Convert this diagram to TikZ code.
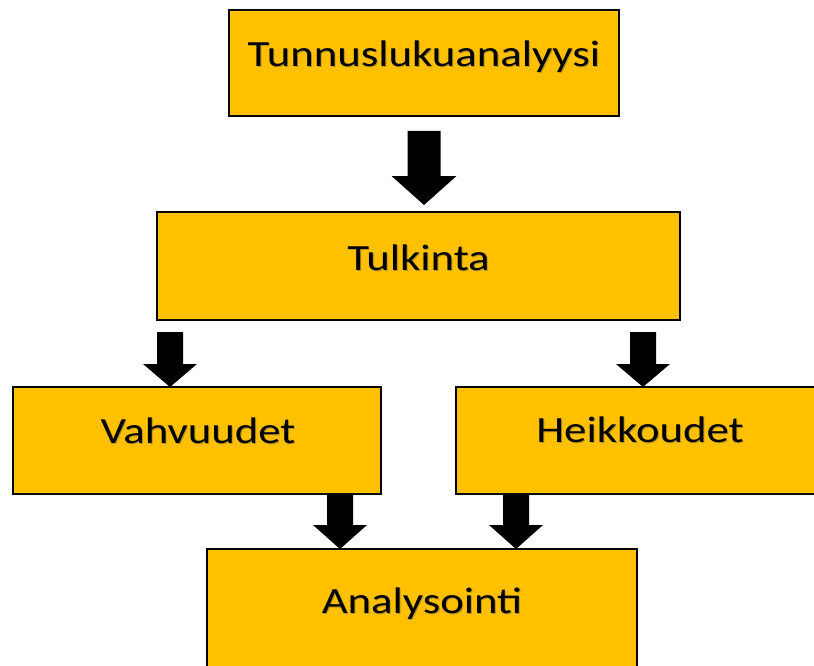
\documentclass[tikz,border=0pt]{standalone}
\usepackage{fontspec}
\setmainfont{Carlito}
\usetikzlibrary{calc}
\definecolor{gold}{HTML}{FFC000}
\tikzset{
  box/.style={draw=black, line width=1.6pt, fill=gold, inner sep=0pt, outer sep=0pt},
  lbl/.style={font=\fontsize{37}{40}\selectfont, anchor=base, inner sep=0pt, text=black},
  lblshadow/.style={lbl, text=black!70, opacity=0.4},
}
% #1 start, #2 tip, #3 shaft half width, #4 head half width, #5 head length
\newcommand\blockarrow[5]{%
  \fill[black] let \p1=(#1), \p2=(#2) in
    (\x2-#3pt,\y1) -- (\x2+#3pt,\y1) -- (\x2+#3pt,\y2+#5pt) -- (\x2+#4pt,\y2+#5pt)
    -- (\x2,\y2) -- (\x2-#4pt,\y2+#5pt) -- (\x2-#3pt,\y2+#5pt) -- cycle;}
\newcommand\boxtext[3]{%
  \node[lblshadow] at ([xshift=1pt,yshift=-1pt]#1) {\scalebox{1.21}[1]{#3}};
  \node[lbl] (#2) at (#1) {\scalebox{1.21}[1]{#3}};}
\begin{document}
\begin{tikzpicture}[x=1pt,y=-1pt]
\useasboundingbox (0,0) rectangle (814,666);
\clip (0,0) rectangle (814,666);
\fill[white] (0,0) rectangle (814,666);
% boxes
\node[box, minimum width=390pt, minimum height=106pt] (tun) at (424,63) {};
\node[box, minimum width=523pt, minimum height=108pt] (tul) at (418.5,266) {};
\node[box, minimum width=368pt, minimum height=107pt] (vah) at (197,440.5) {};
\node[box, minimum width=374pt, minimum height=107pt] (hei) at (643,440.5) {};
\node[box, minimum width=430pt, minimum height=160pt] (ana) at (422,629) {};
% texts
\boxtext{424,67}{ttun}{Tunnuslukuanalyysi}
\boxtext{418.5,270}{ttul}{Tulkinta}
\boxtext{198,443}{tvah}{Vahvuudet}
\boxtext{640,442}{thei}{Heikkoudet}
\boxtext{422,613}{tana}{Analysointi}
% arrow anchor points
\coordinate (s1) at ([yshift=-15pt]tun.south);
\coordinate (e1) at ([yshift=7pt]tun.south |- tul.north);
\coordinate (s2) at ([xshift=-248.5pt,yshift=-12pt]tul.south);
\coordinate (e2) at (s2 |- vah.north);
\coordinate (s3) at ([xshift=224.5pt,yshift=-12pt]tul.south);
\coordinate (e3) at (s3 |- hei.north);
\coordinate (s4) at ([xshift=143pt]vah.south);
\coordinate (e4) at (s4 |- ana.north);
\coordinate (s5) at ([xshift=-127pt]hei.south);
\coordinate (e5) at (s5 |- ana.north);
% arrows
\blockarrow{s1}{e1}{16.5}{32.5}{29}
\blockarrow{s2}{e2}{13}{27}{23}
\blockarrow{s3}{e3}{13}{27}{23}
\blockarrow{s4}{e4}{13}{27}{24}
\blockarrow{s5}{e5}{13}{27}{24}
\end{tikzpicture}
\end{document}
